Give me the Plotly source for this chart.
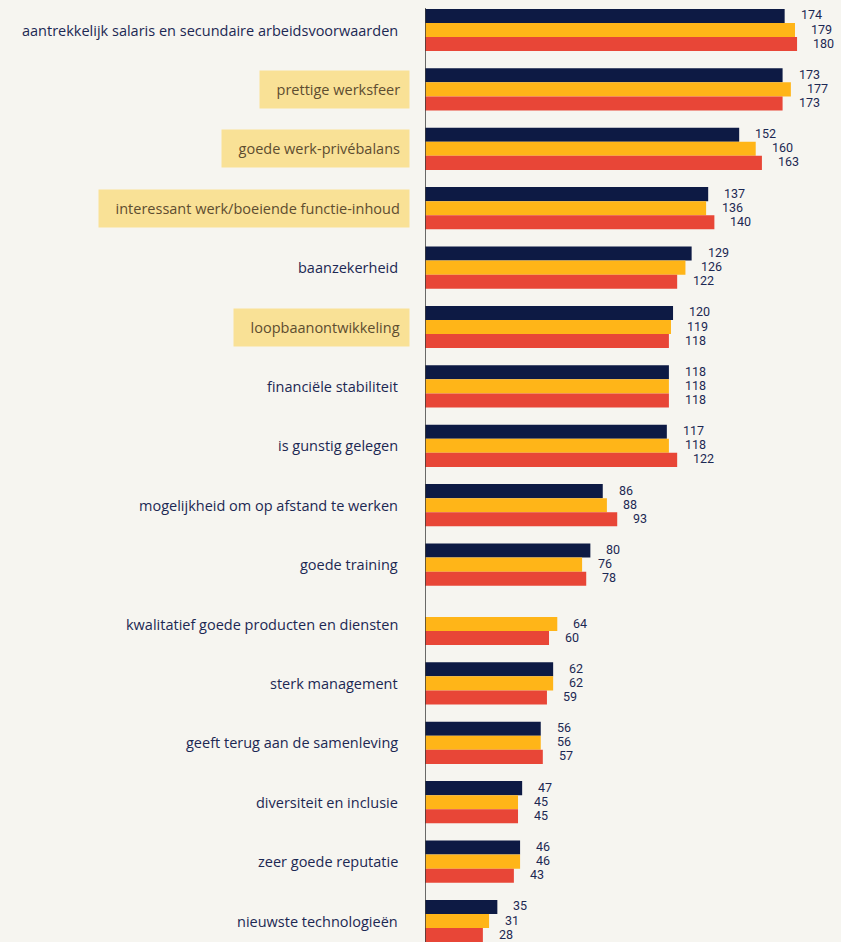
import plotly.graph_objects as go

categories = [
    "aantrekkelijk salaris en secundaire arbeidsvoorwaarden",
    "prettige werksfeer",
    "goede werk-privébalans",
    "interessant werk/boeiende functie-inhoud",
    "baanzekerheid",
    "loopbaanontwikkeling",
    "financiële stabiliteit",
    "is gunstig gelegen",
    "mogelijkheid om op afstand te werken",
    "goede training",
    "kwalitatief goede producten en diensten",
    "sterk management",
    "geeft terug aan de samenleving",
    "diversiteit en inclusie",
    "zeer goede reputatie",
    "nieuwste technologieën",
]
highlighted = [False, True, True, True, False, True, False, False, False, False, False, False, False, False, False, False]

series_a = [174, 173, 152, 137, 129, 120, 118, 117, 86, 80, None, 62, 56, 47, 46, 35]
series_b = [179, 177, 160, 136, 126, 119, 118, 118, 88, 76, 64, 62, 56, 45, 46, 31]
series_c = [180, 173, 163, 140, 122, 118, 118, 122, 93, 78, 60, 59, 57, 45, 43, 28]

colors = ["#0d1a44", "#ffb518", "#e84637"]
BG = "#f6f5f0"
NAVY = "#1c2853"
LABEL_FONT = "Open Sans, Roboto, Arial, sans-serif"

W, H = 841, 942
L = 425
bargap = 0.29
bw = (1 - bargap) / 3
offsets = [-bw, 0, bw]

fig = go.Figure()
idx = list(range(len(categories)))
for vals, col in zip([series_a, series_b, series_c], colors):
    fig.add_trace(go.Bar(
        y=idx, x=vals, orientation="h", marker=dict(color=col, line=dict(width=0)),
        hoverinfo="skip", showlegend=False,
    ))

annotations = []
for s, vals in enumerate([series_a, series_b, series_c]):
    for i, v in enumerate(vals):
        if v is None:
            continue
        annotations.append(dict(
            x=v, y=i + offsets[s], xref="x", yref="y", text=str(v),
            showarrow=False, xanchor="left", yanchor="middle", xshift=14, yshift=1,
            font=dict(family="Roboto, Arial, sans-serif", size=12.5, color=NAVY),
        ))

for i, (cat, hl) in enumerate(zip(categories, highlighted)):
    if hl:
        annotations.append(dict(
            x=(410 - L) / (W - L), y=i, xref="paper", yref="y",
            text="&nbsp;&nbsp;" + cat,
            showarrow=False, xanchor="right", yanchor="middle",
            bgcolor="#f9e196", borderpad=9,
            font=dict(family=LABEL_FONT, size=14.5, color="#5e4d30"),
        ))
    else:
        annotations.append(dict(
            x=(400 - L) / (W - L), y=i, xref="paper", yref="y", text=cat,
            showarrow=False, xanchor="right", yanchor="middle",
            font=dict(family=LABEL_FONT, size=14.5, color=NAVY),
        ))

fig.update_layout(
    width=W, height=H,
    margin=dict(l=L, r=0, t=0, b=0),
    paper_bgcolor=BG, plot_bgcolor=BG,
    barmode="group", bargap=bargap, bargroupgap=0,
    xaxis=dict(range=[0, (W - L) / 2.067], visible=False, fixedrange=True),
    yaxis=dict(range=[(H - 30) / 59.4, -30 / 59.4], visible=False, fixedrange=True),
    annotations=annotations,
    shapes=[dict(type="line", xref="x", yref="paper", x0=0, x1=0,
                 y0=1 - 8 / H, y1=0, line=dict(color="#3a3a3a", width=1.5))],
)

fig.write_html("out.html")
